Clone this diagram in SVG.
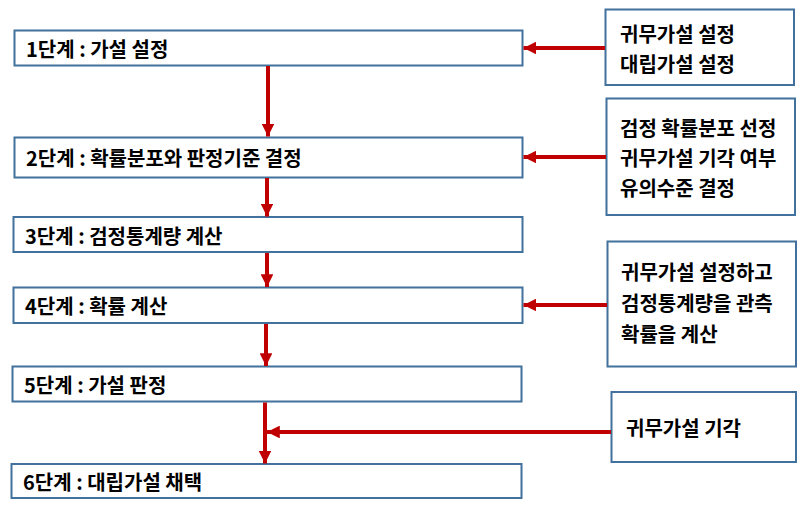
<svg xmlns="http://www.w3.org/2000/svg" width="809" height="527" viewBox="0 0 809 527">
<style>
.box{fill:#ffffff;stroke:#41719C;stroke-width:2}
.t{font-family:"Noto Sans CJK KR","Liberation Sans",sans-serif;font-weight:bold;font-size:20px;fill:#000000;dominant-baseline:central}
.c{stroke:#C00000;stroke-width:4;fill:none}
</style>
<defs>
<marker id="ah" markerWidth="3.2" markerHeight="3.2" refX="3.2" refY="1.6" orient="auto" markerUnits="strokeWidth">
<path d="M0,0 L3.2,1.6 L0,3.2 Z" fill="#C00000"/>
</marker>
</defs>
<g id="step1"><rect class="box" x="14.5" y="30.5" width="508" height="35"/><text class="t" x="26" y="48">1단계 : 가설 설정</text></g>
<g id="step2"><rect class="box" x="14.5" y="137.5" width="508" height="40"/><text class="t" x="26" y="157">2단계 : 확률분포와 판정기준 결정</text></g>
<g id="step3"><rect class="box" x="13.5" y="217" width="509" height="35"/><text class="t" x="25" y="235">3단계 : 검정통계량 계산</text></g>
<g id="step4"><rect class="box" x="13.5" y="287.5" width="509" height="35.5"/><text class="t" x="25" y="305">4단계 : 확률 계산</text></g>
<g id="step5"><rect class="box" x="12.5" y="366.5" width="509" height="35"/><text class="t" x="24" y="384">5단계 : 가설 판정</text></g>
<g id="step6"><rect class="box" x="11.5" y="464" width="510" height="34"/><text class="t" x="23" y="481">6단계 : 대립가설 채택</text></g>
<g id="note1"><rect class="box" x="605.5" y="9.5" width="188.5" height="75.5"/><text class="t" x="620" y="33">귀무가설 설정</text><text class="t" x="620" y="63">대립가설 설정</text></g>
<g id="note2"><rect class="box" x="606.5" y="98.5" width="188.5" height="116.5"/><text class="t" x="620" y="127">검정 확률분포 선정</text><text class="t" x="620" y="157">귀무가설 기각 여부</text><text class="t" x="620" y="187">유의수준 결정</text></g>
<g id="note3"><rect class="box" x="607.5" y="241.5" width="188.5" height="125"/><text class="t" x="621" y="271">귀무가설 설정하고</text><text class="t" x="621" y="302">검정통계량을 관측</text><text class="t" x="621" y="333">확률을 계산</text></g>
<g id="note4"><rect class="box" x="611.5" y="392" width="184.5" height="70"/><text class="t" x="626" y="427">귀무가설 기각</text></g>
<g id="connectors">
<line class="c" x1="268" y1="66" x2="268" y2="136.5" marker-end="url(#ah)"/>
<line class="c" x1="267" y1="178" x2="267" y2="216.5" marker-end="url(#ah)"/>
<line class="c" x1="267" y1="253" x2="267" y2="287" marker-end="url(#ah)"/>
<line class="c" x1="266" y1="324" x2="266" y2="366" marker-end="url(#ah)"/>
<line class="c" x1="265" y1="402.5" x2="265" y2="463.5" marker-end="url(#ah)"/>
<line class="c" x1="605" y1="48" x2="523.5" y2="48" marker-end="url(#ah)"/>
<line class="c" x1="606" y1="157" x2="523.5" y2="157" marker-end="url(#ah)"/>
<line class="c" x1="607" y1="305" x2="523.5" y2="305" marker-end="url(#ah)"/>
<line class="c" x1="611" y1="432" x2="267" y2="432" marker-end="url(#ah)"/>
</g>
</svg>
